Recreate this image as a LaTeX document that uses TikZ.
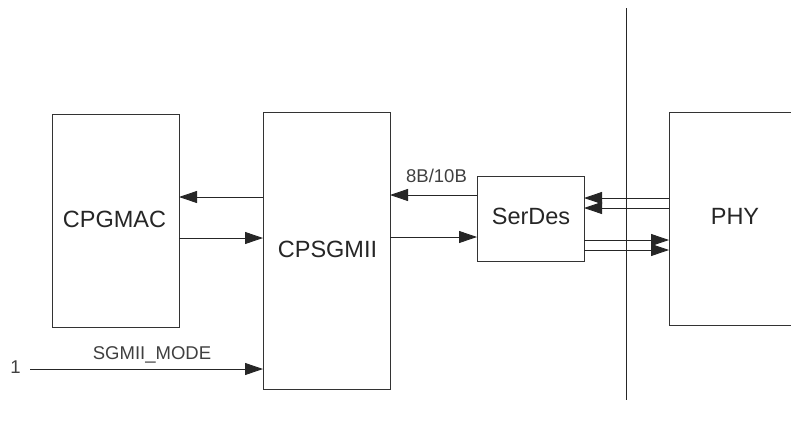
\documentclass[tikz,border=0pt]{standalone}
\usepackage{fontspec}
\setmainfont{Liberation Sans}
\usetikzlibrary{arrows.meta}
\begin{document}
\begin{tikzpicture}[x=1pt,y=-1pt,
  blk/.style={draw=black!80,line width=1pt},
  sig/.style={draw=black!85,line width=0.9pt,-{Triangle[length=18pt,width=12pt]}},
  big/.style={inner sep=0pt,text=black!85,font=\fontsize{23.5}{26}\selectfont},
  small/.style={inner sep=0pt,text=black!75,font=\fontsize{18.5}{21}\selectfont}]
\useasboundingbox (0,0) rectangle (791,431);
% blocks
\draw[blk] (52,114) rectangle (179,327);
\node[big] (mac) at (114.5,219) {CPGMAC};
\draw[blk] (263,112) rectangle (390,389);
\node[big] (sgmii) at (327.5,249.5) {CPSGMII};
\draw[blk] (477,176) rectangle (584,261);
\node[big] (serdes) at (531,216.5) {SerDes};
\draw[blk] (669,112) -- (800,112) (669,112) -- (669,325) -- (800,325);
\node[big] (phy) at (735,216.5) {PHY};
% boundary line
\coordinate (bt) at (626,8);
\coordinate (bb) at (626,400);
\draw[black!85,line width=0.9pt] (bt) -- (bb);
% MAC <-> CPSGMII
\coordinate (a1) at (263,197); \coordinate (a2) at (179,197);
\draw[sig] (a1) -- (a2);
\coordinate (b1) at (179,238); \coordinate (b2) at (263,238);
\draw[sig] (b1) -- (b2);
% CPSGMII <-> SerDes
\coordinate (c1) at (477,195); \coordinate (c2) at (390,195);
\draw[sig] (c1) -- (c2);
\node[small,anchor=base] (lbl) at (436.5,182) {8B/10B};
\coordinate (d1) at (390,237); \coordinate (d2) at (477,237);
\draw[sig] (d1) -- (d2);
% SerDes <-> PHY
\coordinate (e1) at (669,198); \coordinate (e2) at (584,198);
\draw[sig] (e1) -- (e2);
\coordinate (f1) at (669,208); \coordinate (f2) at (584,208);
\draw[sig] (f1) -- (f2);
\coordinate (g1) at (584,240); \coordinate (g2) at (669,240);
\draw[sig] (g1) -- (g2);
\coordinate (h1) at (584,250); \coordinate (h2) at (669,250);
\draw[sig] (h1) -- (h2);
% mode input
\node[small,anchor=base] (one) at (15.5,373) {1};
\coordinate (m1) at (30,369); \coordinate (m2) at (263,369);
\draw[sig] (m1) -- (m2);
\node[small,anchor=base] (mode) at (152,359) {SGMII\_MODE};
\end{tikzpicture}
\end{document}
